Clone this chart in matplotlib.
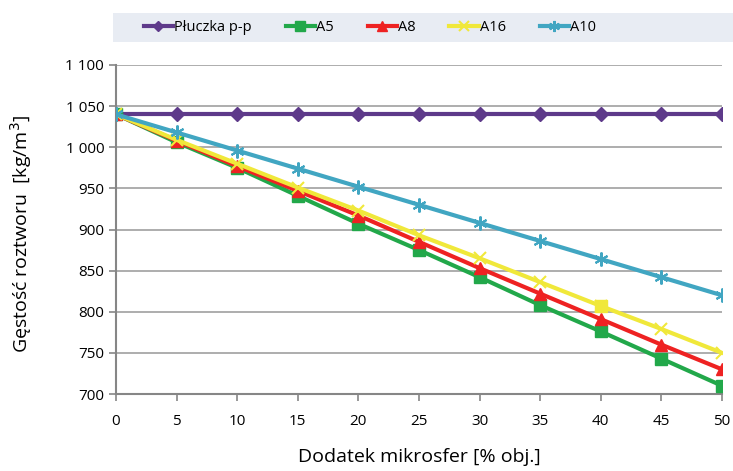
import matplotlib
matplotlib.use("Agg")
import matplotlib.pyplot as plt
from matplotlib.patches import FancyBboxPatch
from matplotlib.ticker import FuncFormatter

x = [0, 5, 10, 15, 20, 25, 30, 35, 40, 45, 50]
pluczka = [1040] * 11
a5 = [1040, 1006, 975, 941, 907, 875, 842, 808, 776, 743, 710]
a8 = [1040, 1008, 977, 947, 917, 885, 853, 822, 791, 760, 730]
a16 = [1040, 1009, 980, 951, 923, 893, 865, 836, 807, 779, 750]
a10 = [1040, 1018, 996, 974, 952, 930, 908, 886, 864, 842, 820]
labels = ["Płuczka p-p", "A5", "A8", "A16", "A10"]

plt.rcParams['font.family'] = ['Open Sans', 'DejaVu Sans']

fig = plt.figure(figsize=(7.33, 4.71), dpi=100)
ax = fig.add_axes([116/733, 1-394/471, (722-116)/733, (394-65)/471])

lw = 3
h1, = ax.plot(x, pluczka, color='#5E3A8A', lw=lw, marker='D', ms=7, label=labels[0], zorder=3)
h2, = ax.plot(x, a5, color='#22A84A', lw=lw, marker='s', ms=9, label=labels[1], zorder=3)
h3, = ax.plot(x, a8, color='#EE2222', lw=lw, marker='^', ms=9, label=labels[2], zorder=3)
h4, = ax.plot(x, a16, color='#F0E83A', lw=lw, marker='x', ms=9, mew=1.5, label=labels[3], zorder=3)
ax.plot([x[8]], [a16[8]], color='#F0E83A', marker='s', ms=9, ls='none', zorder=3)
h5, = ax.plot(x, a10, color='#41A6C2', lw=lw, marker=(6, 2, 0), ms=10, mew=1.5, label=labels[4], zorder=3)

ax.set_xlim(0, 50)
ax.set_ylim(700, 1100)
ax.set_xticks(x)
ax.set_yticks(range(700, 1101, 50))
ax.yaxis.set_major_formatter(FuncFormatter(lambda v, p: f"{int(v):,}".replace(",", " ")))
ax.grid(axis='y', color='#A0A0A0', lw=1.2)
ax.set_axisbelow(True)
for s in ['top', 'right']:
    ax.spines[s].set_visible(False)
for s in ['left', 'bottom']:
    ax.spines[s].set_color('#868686')
    ax.spines[s].set_linewidth(1.5)
ax.tick_params(axis='both', colors='#868686', labelcolor='black', labelsize=11, length=5, width=1.2)
ax.tick_params(axis='x', pad=9.5)

ax.set_xlabel("Dodatek mikrosfer [% obj.]", fontsize=14)
ax.xaxis.set_label_coords(0.5, (394-457)/329, transform=ax.transAxes)
ax.set_ylabel("Gęstość roztworu  [kg/m$^3$]", fontsize=14)
ax.yaxis.set_label_coords((21-116)/606, (394-234)/329, transform=ax.transAxes)
ax.xaxis.label.set_va('center')
ax.yaxis.label.set_va('center')

# legend box
lx0, ly0, lx1, ly1 = 113/733, 1-42/471, 735/733, 1-13/471
bg = FancyBboxPatch((lx0, ly0), lx1-lx0, ly1-ly0, boxstyle='square,pad=0',
                    transform=fig.transFigure, facecolor='#E8ECF3', edgecolor='none', zorder=0)
fig.patches.append(bg)
leg = fig.legend(handles=[h1, h2, h3, h4, h5], labels=labels, loc='center',
                 bbox_to_anchor=(370/733, (ly0+ly1)/2), ncol=5, frameon=False,
                 fontsize=10.5, handlelength=2.0, handletextpad=0.1, columnspacing=2.3,
                 markerscale=0.8)

fig.savefig("out.png", dpi=100)
